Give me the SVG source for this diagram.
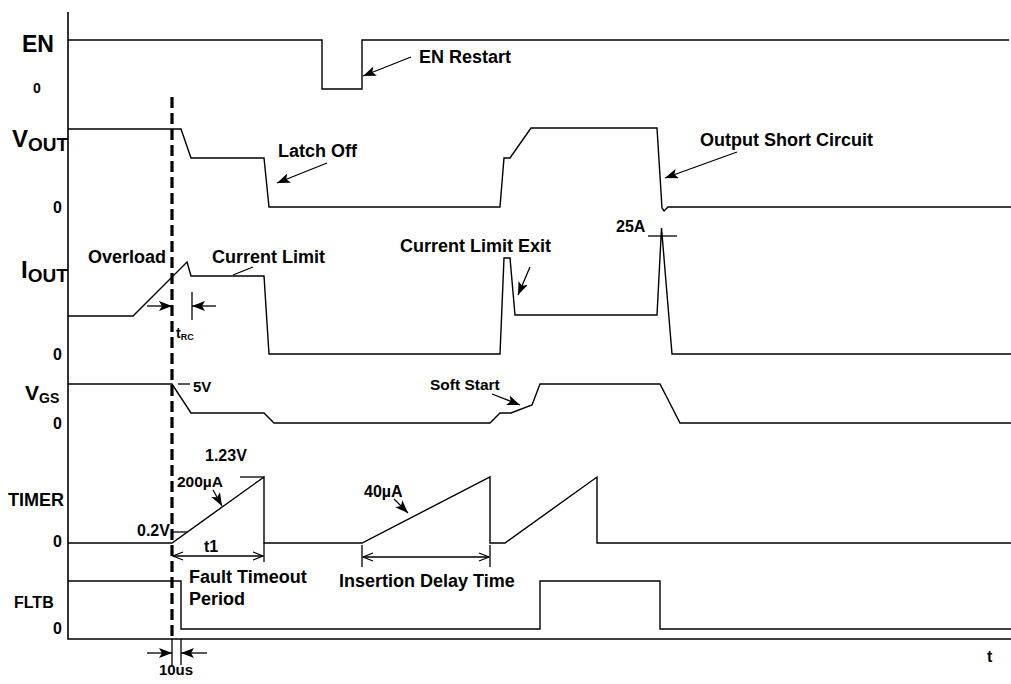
<svg xmlns="http://www.w3.org/2000/svg" width="1011" height="684" viewBox="0 0 1011 684">
<style>
.w{fill:none;stroke:#000;stroke-width:1.4;stroke-linejoin:miter}
.ax{fill:none;stroke:#000;stroke-width:1.6}
.ln{fill:none;stroke:#000;stroke-width:1.3}
.t{font-family:"Liberation Sans",Arial,sans-serif;font-weight:bold;fill:#000}
</style>
<defs>
<marker id="ah" markerUnits="userSpaceOnUse" markerWidth="14" markerHeight="10" refX="13" refY="5" orient="auto">
<path d="M0,0 L13,5 L0,10 L3,5 z" fill="#000"/>
</marker>
<marker id="oa" markerUnits="userSpaceOnUse" markerWidth="12" markerHeight="10" refX="11" refY="5" orient="auto">
<path d="M1,1 L11,5 L1,9" fill="none" stroke="#000" stroke-width="1.2"/>
</marker>
</defs>
<rect width="1011" height="684" fill="#fff"/>

<g id="axes">
<path class="ax" d="M68,12 V639 H1011"/>
<line x1="172" y1="97" x2="172" y2="639" stroke="#000" stroke-width="3.2" stroke-dasharray="11,5"/>
</g>

<g id="EN">
<text class="t" x="22" y="52" font-size="23">EN</text>
<text class="t" x="33" y="93" font-size="14">0</text>
<polyline class="w" points="68,40 322,40 322,89 362,89 362,40 1009,40"/>
</g>

<g id="VOUT">
<text class="t" x="12" y="147" font-size="24">V<tspan font-size="19" dy="4">OUT</tspan></text>
<text class="t" x="53" y="213" font-size="16">0</text>
<polyline class="w" points="68,129 181,129 191,158 264,158 269,207 500,207 504,158 510,158 531,128 657,128 662,208 664,211 666,209 668,207 1011,207"/>
</g>

<g id="IOUT">
<text class="t" x="21" y="278" font-size="24">I<tspan font-size="19" dy="4">OUT</tspan></text>
<text class="t" x="53" y="360" font-size="16">0</text>
<polyline class="w" points="68,316 133,316 187,262 191,276 264,276 269,354 500,354 504,258 510,258 515,315 657,315 661.5,228 672,354 1011,354"/>
</g>

<g id="VGS">
<text class="t" x="25" y="400" font-size="21">V<tspan font-size="14" dy="3">GS</tspan></text>
<text class="t" x="53" y="429" font-size="16">0</text>
<polyline class="w" points="68,384 172,384 191,413 264,413 274,423 490,423 500,413 511,413 532,405 540,384 660,384 680,423 1011,423"/>
</g>

<g id="TIMER">
<text class="t" x="8" y="506" font-size="18">TIMER</text>
<text class="t" x="53" y="547" font-size="16">0</text>
<polyline class="w" points="68,543 172,543 264,477 264,543 362,543 490,477 490,543 505,543 597,477 597,543 1011,543"/>
</g>

<g id="FLTB">
<text class="t" x="14" y="608" font-size="16">FLTB</text>
<text class="t" x="53" y="634" font-size="16">0</text>
<polyline class="w" points="68,581 181,581 181,629 540,629 540,581 660,581 660,629 1011,629"/>
</g>

<g id="connectors">
<line class="ln" x1="411" y1="57" x2="363" y2="76" marker-end="url(#ah)"/>
<line class="ln" x1="327" y1="163" x2="277" y2="183" marker-end="url(#ah)"/>
<line class="ln" x1="737" y1="152" x2="665" y2="178" marker-end="url(#ah)"/>
<line class="ln" x1="253" y1="267" x2="233" y2="275"/>
<line class="ln" x1="530" y1="267" x2="518" y2="295" marker-end="url(#ah)"/>
<line class="ln" x1="648" y1="236" x2="677" y2="236"/>
<line class="ln" x1="147" y1="306" x2="172" y2="306" marker-end="url(#ah)"/>
<line class="ln" x1="192" y1="292" x2="192" y2="320"/>
<line class="ln" x1="216" y1="306" x2="192" y2="306" marker-end="url(#ah)"/>
<line class="ln" x1="178" y1="384" x2="190" y2="384"/>
<line class="ln" x1="492" y1="394" x2="520" y2="405" marker-end="url(#ah)"/>
<line class="ln" x1="240" y1="477" x2="264" y2="477"/>
<line class="ln" x1="213" y1="490" x2="222" y2="506" marker-end="url(#ah)"/>
<line class="ln" x1="173" y1="532" x2="187" y2="532"/>
<line class="ln" x1="264" y1="543" x2="264" y2="562"/>
<line class="ln" x1="218" y1="556" x2="173" y2="556" marker-end="url(#oa)"/>
<line class="ln" x1="218" y1="556" x2="263" y2="556" marker-end="url(#oa)"/>
<line class="ln" x1="394" y1="499" x2="408" y2="513" marker-end="url(#ah)"/>
<line class="ln" x1="362" y1="545" x2="362" y2="567"/>
<line class="ln" x1="490" y1="545" x2="490" y2="567"/>
<line class="ln" x1="426" y1="557" x2="363" y2="557" marker-end="url(#oa)"/>
<line class="ln" x1="426" y1="557" x2="489" y2="557" marker-end="url(#oa)"/>
<line class="ln" x1="172" y1="639" x2="172" y2="665"/>
<line class="ln" x1="181" y1="639" x2="181" y2="665"/>
<line class="ln" x1="147" y1="653" x2="172" y2="653" marker-end="url(#ah)"/>
<line class="ln" x1="207" y1="653" x2="181" y2="653" marker-end="url(#ah)"/>
</g>

<g id="labels">
<text class="t" x="419" y="63" font-size="18">EN Restart</text>
<text class="t" x="278" y="157" font-size="18">Latch Off</text>
<text class="t" x="700" y="146" font-size="18">Output Short Circuit</text>
<text class="t" x="88" y="263" font-size="18">Overload</text>
<text class="t" x="212" y="263" font-size="18">Current Limit</text>
<text class="t" x="400" y="252" font-size="18">Current Limit Exit</text>
<text class="t" x="616" y="232" font-size="16">25A</text>
<text class="t" x="176" y="338" font-size="14">t<tspan font-size="9" dy="2">RC</tspan></text>
<text class="t" x="193" y="392" font-size="15">5V</text>
<text class="t" x="430" y="390" font-size="15.5">Soft Start</text>
<text class="t" x="205" y="461" font-size="16">1.23V</text>
<text class="t" x="177" y="487" font-size="15.5">200µA</text>
<text class="t" x="137" y="536" font-size="16">0.2V</text>
<text class="t" x="204" y="552" font-size="16">t1</text>
<text class="t" x="364" y="497" font-size="16">40µA</text>
<text class="t" x="189" y="583" font-size="18">Fault Timeout</text>
<text class="t" x="189" y="605" font-size="18">Period</text>
<text class="t" x="339" y="587" font-size="18">Insertion Delay Time</text>
<text class="t" x="176" y="675" font-size="15" text-anchor="middle">10us</text>
<text class="t" x="987" y="662" font-size="16">t</text>
</g>
</svg>
